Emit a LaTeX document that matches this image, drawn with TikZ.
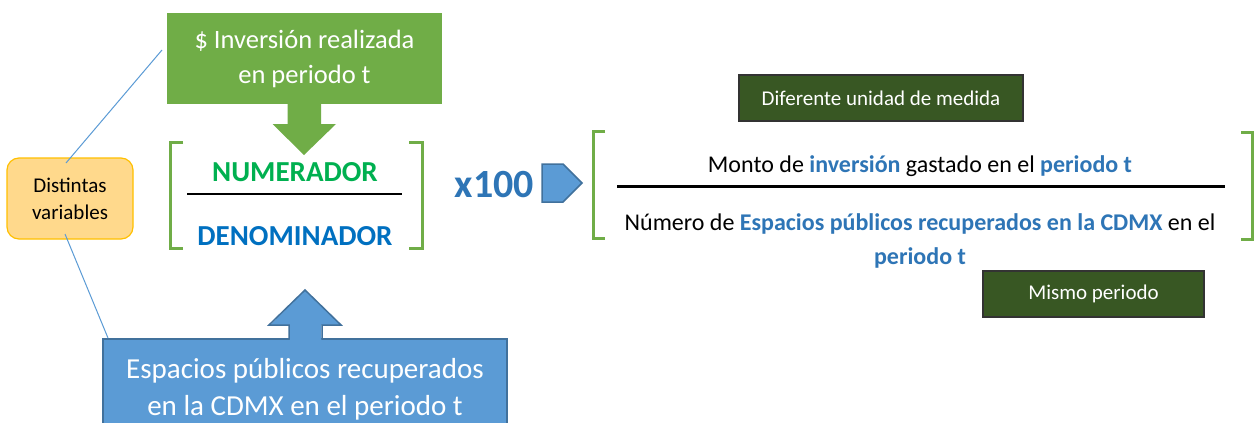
\documentclass[tikz,border=0pt]{standalone}
\usepackage{fontspec}
\setmainfont{Carlito}
\usepackage{tikz}

\definecolor{verde}{HTML}{70AD47}
\definecolor{verdenum}{HTML}{00B050}
\definecolor{azulden}{HTML}{0070C0}
\definecolor{azul}{HTML}{5B9BD5}
\definecolor{azulborde}{HTML}{41719C}
\definecolor{azultexto}{HTML}{2E75B6}
\definecolor{verdeosc}{HTML}{385723}
\definecolor{naranja}{HTML}{FFD98C}
\definecolor{naranjaborde}{HTML}{FFC000}

\newcommand{\resalta}[1]{\textbf{\color{azultexto}#1}}

\tikzset{
	greenbox/.style={fill=verde, text=white, inner sep=0pt, minimum width=275pt, minimum height=91pt, align=center, font=\fontsize{26.5}{35}\selectfont},
	bluebox/.style={fill=azul, draw=azulborde, line width=1.5pt, text=white, inner sep=0pt, minimum width=404pt, minimum height=101pt, align=center, font=\fontsize{29}{37}\selectfont},
	darkbox/.style={fill=verdeosc, draw=black!80, line width=1.2pt, text=white, inner sep=0pt, minimum height=46pt, font=\fontsize{21}{26}\selectfont},
	varbox/.style={fill=naranja, draw=naranjaborde, line width=1.2pt, rounded corners=12pt, inner sep=0pt, minimum width=126pt, minimum height=81pt, align=center, font=\fontsize{21}{27}\selectfont},
	bracket/.style={draw=verde, line width=3pt},
	fracline/.style={draw=black, line width=2pt},
	callout/.style={draw=azul, line width=1pt},
	txt/.style={font=\fontsize{24}{34}\selectfont, align=center}
}

\begin{document}
\begin{tikzpicture}[x=1pt,y=-1pt]
	\useasboundingbox (0,0) rectangle (1254,423);
	\fill[white] (0,0) rectangle (1254,423);
	
	\node[greenbox] (inv) at (304.5,58.5) {\$ Inversión realizada\\en periodo t};
	\fill[verde] (287.5,104) -- (287.5,124) -- (272.5,124) -- (304,155) -- (336,124) -- (321,124) -- (321,104) -- cycle;
	
	\node[font=\fontsize{29}{35}\selectfont\bfseries, text=verdenum] (numer) at (295,172) {NUMERADOR};
	\node[font=\fontsize{29}{35}\selectfont\bfseries, text=azulden] (denom) at (295,236) {DENOMINADOR};
	\coordinate (fl) at (187,194);
	\coordinate (fr) at (402,194);
	\path[fracline] (fl) -- (fr);
	\draw[bracket] (183,142) -- (170,142) -- (170,248) -- (183,248);
	\draw[bracket] (409,142) -- (422,142) -- (422,248) -- (409,248);
	
	\node[bluebox, anchor=north] (esp) at (305,338) {Espacios públicos recuperados\\en la CDMX en el periodo t};
	\fill[azul] (289.75,340) -- (289.75,325) -- (270,325) -- (305,290) -- (341,325) -- (321.25,325) -- (321.25,340) -- cycle;
	\draw[azulborde, line width=1.5pt, line join=miter] (289,338.75) -- (289,325) -- (269,325) -- (305,290) -- (341,325) -- (322,325) -- (322,338.75);
	
	\node[varbox] (dv) at (70,198.5) {Distintas\\variables};
	\coordinate (c1) at (66,163);
	\coordinate (c2) at (162,50);
	\coordinate (c3) at (65,234);
	\coordinate (c4) at (108,338);
	\path[callout]
	(c1) edge (c2)
	(c3) edge (c4);
	
	\node[font=\fontsize{40}{48}\selectfont\bfseries, text=azultexto] (por) at (494.5,185) {x100};
	\filldraw[fill=azul, draw=azulborde, line width=1.5pt] (542,164) -- (563,164) -- (582,183) -- (563,202) -- (542,202) -- cycle;
	
	\draw[bracket] (605,131) -- (593,131) -- (593,238) -- (605,238);
	\draw[bracket] (1241,132) -- (1252,132) -- (1252,239) -- (1241,239);
	\node[txt] (monto) at (920,166) {Monto de \resalta{inversión} gastado en el \resalta{periodo t}};
	\coordinate (ml) at (617,186);
	\coordinate (mr) at (1225,186);
	\path[fracline, line width=3pt] (ml) -- (mr);
	\node[txt] (numero) at (920,241) {Número de \resalta{Espacios públicos recuperados en la CDMX} en el\\\resalta{periodo t}};
	
	\node[darkbox, minimum width=284pt] (unidad) at (881,98) {Diferente unidad de medida};
	\node[darkbox, minimum width=221pt] (mismo) at (1093.5,294) {Mismo periodo};
\end{tikzpicture}
\end{document}
